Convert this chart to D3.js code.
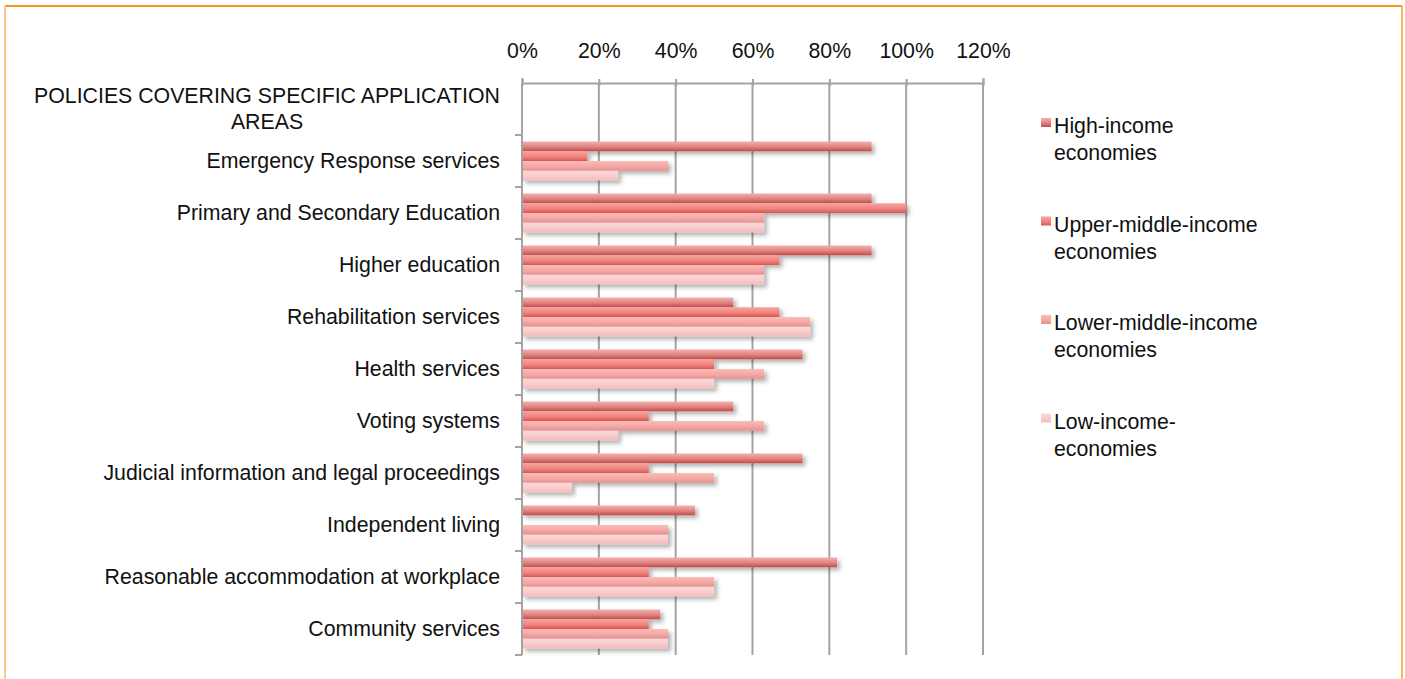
<!DOCTYPE html>
<html>
<head>
<meta charset="utf-8">
<script src="https://d3js.org/d3.v7.min.js"></script>
<style>
  html, body { margin: 0; padding: 0; background: #fff; }
  svg { display: block; font-family: "Liberation Sans", Arial, Helvetica, sans-serif; }
</style>
</head>
<body>
<div id="chart"></div>
<script>
// Categories top to bottom (first row is a section heading with no bars)
const categories = [
    'POLICIES COVERING SPECIFIC APPLICATION AREAS',
    'Emergency Response services',
    'Primary and Secondary Education',
    'Higher education',
    'Rehabilitation services',
    'Health services',
    'Voting systems',
    'Judicial information and legal proceedings',
    'Independent living',
    'Reasonable accommodation at workplace',
    'Community services'
];

const seriesNames = ['High-income economies', 'Upper-middle-income economies', 'Lower-middle-income economies', 'Low-income-economies'];
const legendLines = [
    ['High-income', 'economies'],
    ['Upper-middle-income', 'economies'],
    ['Lower-middle-income', 'economies'],
    ['Low-income-', 'economies']
];

// Values in percent, one entry per category (null = heading row)
const highIncome  = [null, 91, 91, 91, 55, 73, 55, 73, 45, 82, 36];
const upperMiddle = [null, 17, 100, 67, 67, 50, 33, 33, 0, 33, 33];
const lowerMiddle = [null, 38, 63, 63, 75, 63, 63, 50, 38, 50, 38];
const lowIncome   = [null, 25, 63, 63, 75, 50, 25, 13, 38, 50, 38];

const xTicks = [0, 20, 40, 60, 80, 100, 120];

const seriesValues = [highIncome, upperMiddle, lowerMiddle, lowIncome];
const gradStops = [
    ['#f2b0ae', '#e0827f', '#c24c4a'],
    ['#f7a49f', '#ef8480', '#da5752'],
    ['#fabcb8', '#f3a8a4', '#e6928e'],
    ['#fcd8d8', '#f9cccc', '#f1baba']
];

const fontSize = '21.3px';
const width = 1405, height = 679;
const plot = { left: 522, right: 983, top: 83, bottom: 655 };

const svg = d3.select('#chart').append('svg')
    .attr('width', width)
    .attr('height', height);

const defs = svg.append('defs');
gradStops.forEach((stops, i) => {
    const g = defs.append('linearGradient')
        .attr('id', 'grad' + i)
        .attr('x1', 0).attr('y1', 0).attr('x2', 0).attr('y2', 1);
    g.append('stop').attr('offset', '0%').attr('stop-color', stops[0]);
    g.append('stop').attr('offset', '55%').attr('stop-color', stops[1]);
    g.append('stop').attr('offset', '100%').attr('stop-color', stops[2]);
});
defs.append('filter')
    .attr('id', 'shadow')
    .attr('x', '-5%').attr('y', '-50%').attr('width', '115%').attr('height', '250%')
    .append('feDropShadow')
    .attr('dx', 3).attr('dy', 3)
    .attr('stdDeviation', 2)
    .attr('flood-color', '#000')
    .attr('flood-opacity', 0.3);

// Orange frame
svg.append('line')
    .attr('x1', 5).attr('x2', 1402).attr('y1', 6).attr('y2', 6)
    .attr('stroke', '#f39a1e').attr('stroke-width', 2);
svg.append('line')
    .attr('x1', 5).attr('x2', 5).attr('y1', 6).attr('y2', height)
    .attr('stroke', '#fcc98c').attr('stroke-width', 2);
svg.append('line')
    .attr('x1', 1402).attr('x2', 1402).attr('y1', 6).attr('y2', height)
    .attr('stroke', '#fbb660').attr('stroke-width', 2);

// Scales
const x = d3.scaleLinear().domain([0, 120]).range([plot.left, plot.right]);
const y = d3.scaleBand().domain(categories).range([plot.top, plot.bottom]);
const ySeries = d3.scaleBand()
    .domain(d3.range(seriesNames.length))
    .range([0, y.step()])
    .paddingInner(0)
    .paddingOuter(0.667);

// Gridlines
svg.append('g')
    .selectAll('line')
    .data(xTicks.slice(1))
    .enter()
    .append('line')
    .attr('x1', d => x(d)).attr('x2', d => x(d))
    .attr('y1', plot.top).attr('y2', plot.bottom)
    .attr('stroke', '#a3a3a3')
    .attr('stroke-width', 2);

// Top axis
const xAxis = d3.axisTop(x)
    .tickValues(xTicks)
    .tickFormat(d => d + '%')
    .tickSize(5)
    .tickPadding(20);
const axisG = svg.append('g')
    .attr('transform', `translate(0,${plot.top})`)
    .call(xAxis);
axisG.select('.domain').attr('stroke', '#a3a3a3').attr('stroke-width', 2);
axisG.selectAll('.tick line').attr('stroke', '#a3a3a3').attr('stroke-width', 2).attr('y2', 3).attr('y1', -4);
axisG.selectAll('.tick text')
    .attr('fill', '#111')
    .attr('font-size', fontSize)
    .attr('font-family', '"Liberation Sans", Arial, sans-serif');

// Bars
seriesValues.forEach((vals, si) => {
    svg.append('g')
        .selectAll('rect')
        .data(categories.map((c, ci) => ({ cat: c, v: vals[ci] })).filter(d => d.v))
        .enter()
        .append('rect')
        .attr('x', x(0))
        .attr('y', d => y(d.cat) + ySeries(si))
        .attr('width', d => x(d.v) - x(0))
        .attr('height', ySeries.bandwidth())
        .attr('fill', `url(#grad${si})`)
        .attr('filter', 'url(#shadow)');
});

// Left axis with ticks on category boundaries
const leftG = svg.append('g').attr('stroke', '#a3a3a3').attr('stroke-width', 2);
leftG.append('line')
    .attr('x1', plot.left).attr('x2', plot.left)
    .attr('y1', plot.top).attr('y2', plot.bottom);
leftG.selectAll('.ytick')
    .data(categories.map(c => y(c) + y.step()))
    .enter()
    .append('line')
    .attr('class', 'ytick')
    .attr('x1', plot.left - 7).attr('x2', plot.left)
    .attr('y1', d => d).attr('y2', d => d);

// Category labels
const labels = svg.append('g')
    .attr('font-size', fontSize)
    .attr('fill', '#111');
categories.forEach((c, i) => {
    const cy = y(c) + y.step() / 2;
    if (i === 0) {
        const t = labels.append('text').attr('text-anchor', 'middle');
        t.append('tspan').attr('x', 267).attr('y', cy - 6).text('POLICIES COVERING SPECIFIC APPLICATION');
        t.append('tspan').attr('x', 267).attr('y', cy + 20).text('AREAS');
    } else {
        labels.append('text')
            .attr('x', 500)
            .attr('y', cy + 7)
            .attr('text-anchor', 'end')
            .text(c);
    }
});

// Legend
const legend = svg.append('g').attr('font-size', fontSize).attr('fill', '#111');
legendLines.forEach((lines, i) => {
    const top = 118 + i * 98.5;
    legend.append('rect')
        .attr('x', 1041).attr('y', top)
        .attr('width', 10).attr('height', 9)
        .attr('fill', `url(#grad${i})`);
    const t = legend.append('text');
    lines.forEach((ln, li) => {
        t.append('tspan').attr('x', 1054).attr('y', top + 15 + li * 27).text(ln);
    });
});
</script>
</body>
</html>
